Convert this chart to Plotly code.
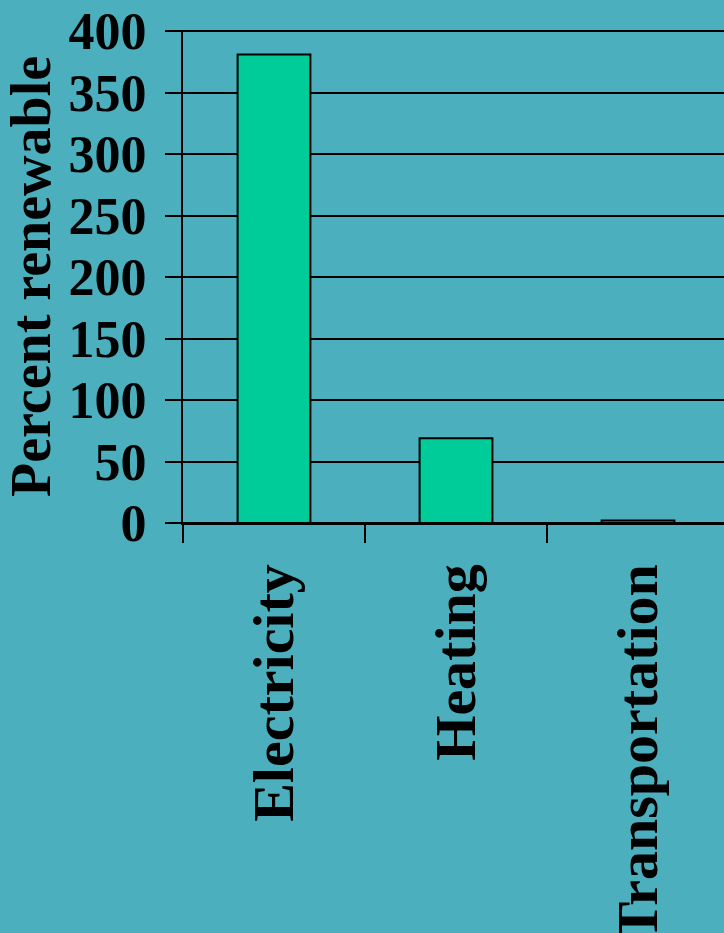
import plotly.graph_objects as go

# Renewable share by energy sector
categories = ["Electricity", "Heating", "Transportation"]
values = [381, 69, 2]
y_ticks = [0, 50, 100, 150, 200, 250, 300, 350, 400]

BG = "#4BAFBE"
BAR = "#00CC99"
FONT = "Liberation Serif"

fig = go.Figure(
    go.Bar(
        x=categories,
        y=values,
        width=0.4,
        marker=dict(color=BAR, line=dict(color="black", width=2)),
    )
)

fig.update_layout(
    width=724,
    height=933,
    paper_bgcolor=BG,
    plot_bgcolor=BG,
    margin=dict(l=183, r=0, t=30, b=410),
    showlegend=False,
    font=dict(family=FONT, color="black"),
)

fig.update_xaxes(
    range=[-0.5, 2.5 - 5 / 182],
    showline=True,
    linecolor="black",
    linewidth=2,
    ticks="outside",
    tickson="boundaries",
    ticklen=18,
    tickwidth=2,
    tickcolor="black",
    tickangle=-90,
    ticklabelstandoff=16,
    tickfont=dict(family=FONT, size=58, weight="bold"),
    showgrid=False,
    automargin=False,
)

fig.update_yaxes(
    range=[0, 401],
    tickvals=y_ticks,
    showline=True,
    linecolor="black",
    linewidth=2,
    showgrid=True,
    gridcolor="black",
    gridwidth=2,
    zeroline=True,
    zerolinecolor="black",
    zerolinewidth=2,
    ticks="outside",
    ticklen=16,
    tickwidth=2,
    tickcolor="black",
    ticklabelstandoff=8,
    tickfont=dict(family=FONT, size=52, weight="bold"),
    title=dict(
        text="Percent renewable",
        font=dict(family=FONT, size=56, weight="bold"),
        standoff=8,
    ),
    automargin=False,
)

fig.write_html("out.html")
